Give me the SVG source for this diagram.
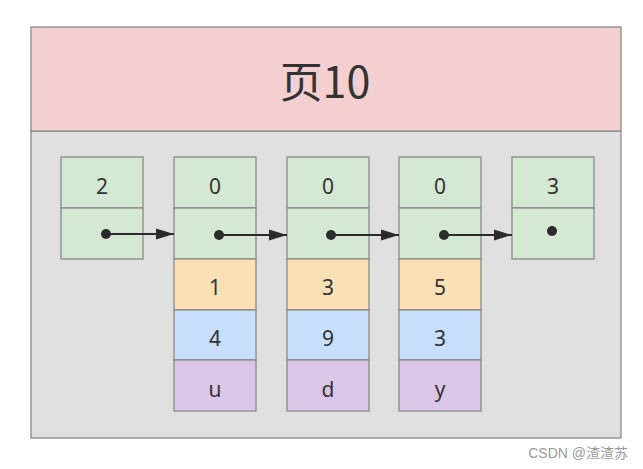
<svg xmlns="http://www.w3.org/2000/svg" width="643" height="469" viewBox="0 0 643 469">
<defs>
<style>
.c{stroke:#8a8a8a;stroke-width:1.3}
.g{fill:#d5e8d4}.o{fill:#f9e1b5}.b{fill:#c7dffa}.p{fill:#dac6e8}
.t{font-family:"Noto Sans","DejaVu Sans",sans-serif;font-size:21px;fill:#333;text-anchor:middle}
.ln{stroke:#2b2b2b;stroke-width:2;fill:none}
</style>
<marker id="ah" markerWidth="18" markerHeight="12" refX="18" refY="6" orient="auto" markerUnits="userSpaceOnUse">
<path d="M0,0.5 L18,6 L0,11.5 Z" fill="#2b2b2b"/>
</marker>
</defs>
<rect width="643" height="469" fill="#ffffff"/>
<g id="page">
<rect x="31" y="131" width="590" height="307" fill="#e0e0e0" class="c"/>
<rect x="31" y="27" width="590" height="104" fill="#f3cfcf" class="c"/>
<text x="325" y="98" font-family="'Noto Sans CJK SC','Noto Sans',sans-serif" font-size="43" fill="#333" text-anchor="middle">页10</text>
</g>
<g id="n1">
<rect x="61" y="157" width="82" height="51" class="c g"/>
<rect x="61" y="208" width="82" height="51" class="c g"/>
<text x="102" y="194" class="t">2</text>
<circle cx="106" cy="234" r="5" fill="#2b2b2b"/>
</g>
<g id="n2">
<rect x="174" y="157" width="82" height="51" class="c g"/>
<rect x="174" y="208" width="82" height="51" class="c g"/>
<rect x="174" y="259" width="82" height="51" class="c o"/>
<rect x="174" y="310" width="82" height="50" class="c b"/>
<rect x="174" y="360" width="82" height="51" class="c p"/>
<text x="215" y="194" class="t">0</text>
<text x="215" y="295" class="t">1</text>
<text x="215" y="346" class="t">4</text>
<text x="215" y="397" class="t">u</text>
<circle cx="219" cy="235" r="5" fill="#2b2b2b"/>
</g>
<g id="n3">
<rect x="287" y="157" width="82" height="51" class="c g"/>
<rect x="287" y="208" width="82" height="51" class="c g"/>
<rect x="287" y="259" width="82" height="51" class="c o"/>
<rect x="287" y="310" width="82" height="50" class="c b"/>
<rect x="287" y="360" width="82" height="51" class="c p"/>
<text x="328" y="194" class="t">0</text>
<text x="328" y="295" class="t">3</text>
<text x="328" y="346" class="t">9</text>
<text x="328" y="397" class="t">d</text>
<circle cx="331" cy="235" r="5" fill="#2b2b2b"/>
</g>
<g id="n4">
<rect x="399" y="157" width="82" height="51" class="c g"/>
<rect x="399" y="208" width="82" height="51" class="c g"/>
<rect x="399" y="259" width="82" height="51" class="c o"/>
<rect x="399" y="310" width="82" height="50" class="c b"/>
<rect x="399" y="360" width="82" height="51" class="c p"/>
<text x="440" y="194" class="t">0</text>
<text x="440" y="295" class="t">5</text>
<text x="440" y="346" class="t">3</text>
<text x="440" y="397" class="t">y</text>
<circle cx="444" cy="235" r="5" fill="#2b2b2b"/>
</g>
<g id="n5">
<rect x="512" y="157" width="82" height="51" class="c g"/>
<rect x="512" y="208" width="82" height="51" class="c g"/>
<text x="553" y="194" class="t">3</text>
<circle cx="552" cy="231" r="5" fill="#2b2b2b"/>
</g>
<g id="connectors">
<line x1="106" y1="234" x2="174" y2="234" class="ln" marker-end="url(#ah)"/>
<line x1="219" y1="235" x2="287" y2="235" class="ln" marker-end="url(#ah)"/>
<line x1="331" y1="235" x2="399" y2="235" class="ln" marker-end="url(#ah)"/>
<line x1="444" y1="235" x2="512" y2="235" class="ln" marker-end="url(#ah)"/>
</g>
<text x="628" y="458" font-family="'Liberation Sans','Noto Sans CJK SC',sans-serif" font-size="14" fill="#9a9a9a" text-anchor="end">CSDN @渣渣苏</text>
</svg>
